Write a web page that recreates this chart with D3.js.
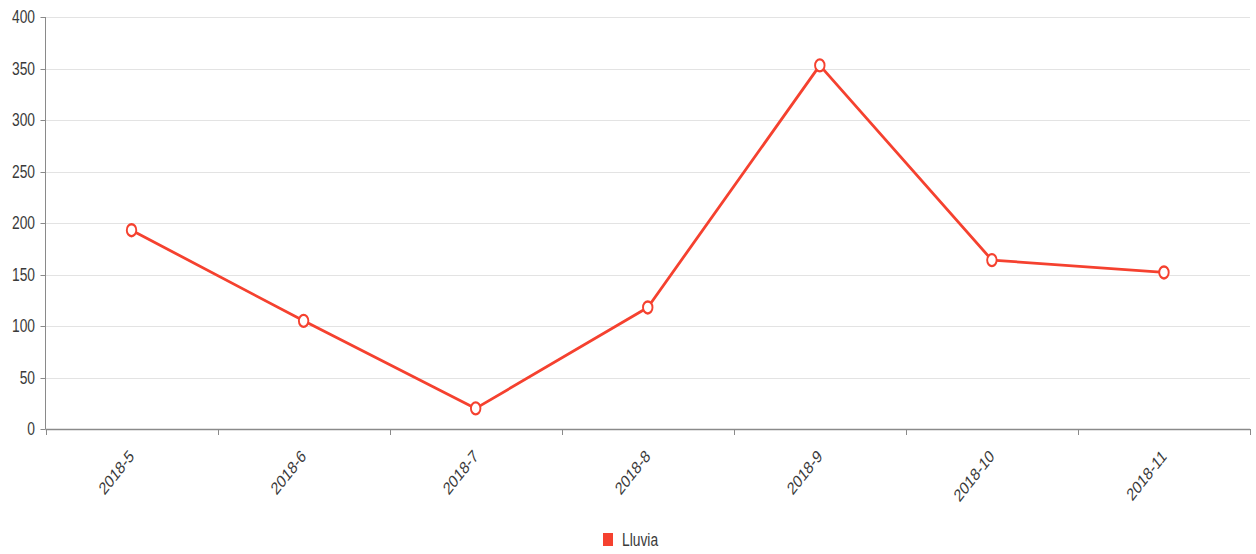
<!DOCTYPE html>
<html><head><meta charset="utf-8">
<script src="https://cdn.jsdelivr.net/npm/d3@7/dist/d3.min.js"></script>
<style>html,body{margin:0;padding:0;background:#fff;}svg{display:block;}</style>
</head><body>
<svg id="chart" width="1256" height="554"></svg>
<script>
const categories = ["2018-5","2018-6","2018-7","2018-8","2018-9","2018-10","2018-11"];
const lluvia = [193, 105, 20, 118, 353, 164, 152];
const yTicks = [0, 50, 100, 150, 200, 250, 300, 350, 400];
const seriesName = "Lluvia";

const color = "#f5412f";
const sx = 0.79;          // horizontal squeeze of the reference rendering
const fontFamily = "'Liberation Sans', Arial, sans-serif";
const fs = 17.5;

const svg = d3.select("#chart");
const plotL = 45.5, plotR = 1250, plotT = 17, plotB = 429;

const x = d3.scaleBand().domain(categories).range([plotL, plotR]).padding(0);
const y = d3.scaleLinear().domain([0, 400]).range([plotB, plotT]);

// grid lines
svg.append("g").selectAll("line").data(yTicks.filter(d => d !== 0)).join("line")
  .attr("x1", plotL).attr("x2", plotR)
  .attr("y1", d => Math.round(y(d)) + 0.5).attr("y2", d => Math.round(y(d)) + 0.5)
  .attr("stroke", "#e3e3e3").attr("stroke-width", 1.2);

// y axis
const yAxis = svg.append("g");
yAxis.append("line").attr("x1", plotL).attr("x2", plotL).attr("y1", plotT).attr("y2", plotB)
  .attr("stroke", "#8a8a8a").attr("stroke-width", 1);
yAxis.selectAll("line.tick").data(yTicks).join("line").attr("class", "tick")
  .attr("x1", plotL - 5).attr("x2", plotL)
  .attr("y1", d => Math.round(y(d)) + 0.5).attr("y2", d => Math.round(y(d)) + 0.5)
  .attr("stroke", "#8a8a8a");
yAxis.selectAll("text").data(yTicks).join("text")
  .attr("transform", d => `translate(35,${y(d)}) scale(${sx},1)`)
  .attr("text-anchor", "end").attr("dominant-baseline", "central")
  .attr("font-family", fontFamily).attr("font-size", fs).attr("fill", "#3a3a3a")
  .text(d => d);

// x axis
const xAxis = svg.append("g");
xAxis.append("line").attr("x1", plotL).attr("x2", plotR).attr("y1", plotB + 0.5).attr("y2", plotB + 0.5)
  .attr("stroke", "#8a8a8a").attr("stroke-width", 1.4);
const boundaries = categories.map(c => x(c)).concat([x(categories[categories.length - 1]) + x.bandwidth()]);
xAxis.selectAll("line.tick").data(boundaries).join("line").attr("class", "tick")
  .attr("x1", d => Math.round(d) + 0.5).attr("x2", d => Math.round(d) + 0.5)
  .attr("y1", plotB).attr("y2", plotB + 6)
  .attr("stroke", "#8a8a8a");
xAxis.selectAll("text").data(categories).join("text")
  .attr("transform", d => `translate(${x(d) + x.bandwidth() / 2},${plotB + 24}) scale(${sx},1) rotate(-45)`)
  .attr("text-anchor", "end").attr("dominant-baseline", "central")
  .attr("font-family", fontFamily).attr("font-size", fs).attr("fill", "#3a3a3a")
  .text(d => d);

// line
const pts = categories.map((c, i) => ({c, v: lluvia[i]}));
svg.append("path").datum(pts)
  .attr("d", d3.line().x(d => x(d.c) + x.bandwidth() / 2).y(d => y(d.v)))
  .attr("fill", "none").attr("stroke", color).attr("stroke-width", 2.8)
  .attr("stroke-linejoin", "round");

// symbols
svg.append("g").selectAll("circle").data(pts).join("circle")
  .attr("transform", d => `translate(${x(d.c) + x.bandwidth() / 2},${y(d.v)}) scale(${sx},1)`)
  .attr("r", 6).attr("fill", "#fff").attr("stroke", color).attr("stroke-width", 2.4);

// legend
const lg = svg.append("g");
lg.append("rect").attr("x", 603).attr("y", 533).attr("width", 10).attr("height", 13).attr("fill", color);
lg.append("text").attr("transform", `translate(622,540) scale(${sx},1)`)
  .attr("dominant-baseline", "central")
  .attr("font-family", fontFamily).attr("font-size", fs).attr("fill", "#3a3a3a")
  .text(seriesName);
</script>
</body></html>
